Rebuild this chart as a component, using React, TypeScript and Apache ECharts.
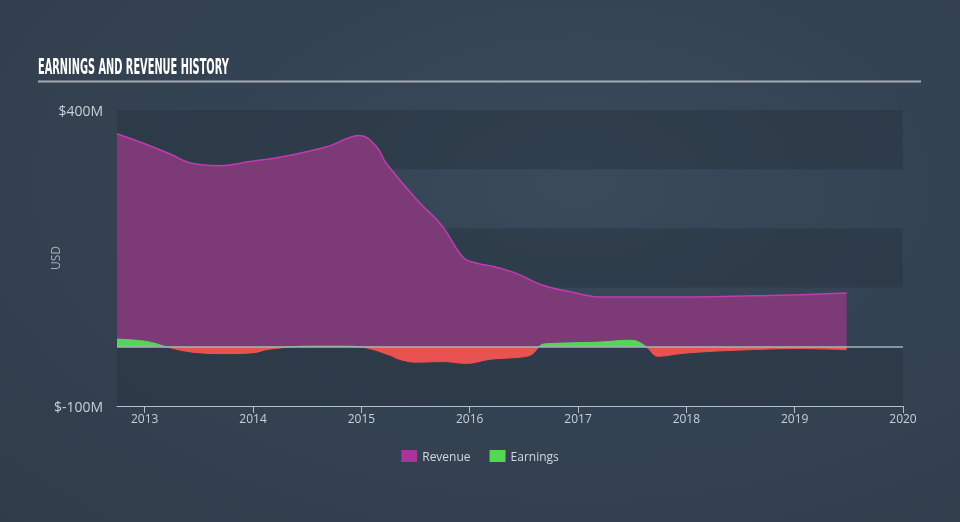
import React, { useEffect, useRef } from "react";
import * as echarts from "echarts";

const yearTicks = [2013, 2014, 2015, 2016, 2017, 2018, 2019, 2020];
const yLabelValues = [-100, 400];

const revenueX = [2012.744, 2013.0, 2013.23, 2013.415, 2013.69, 2013.97, 2014.27, 2014.68, 2014.985, 2015.14, 2015.23, 2015.51, 2015.75, 2015.94, 2016.07, 2016.21, 2016.43, 2016.675, 2016.95, 2017.23, 2017.91, 2018.84, 2019.48];
const revenueY = [360, 343, 326, 311, 306, 313, 321, 338, 357, 338, 310, 249, 203, 151, 141, 136, 124, 104, 92, 84, 84, 87, 91];

const earningsX = [2012.744, 2012.98, 2013.09, 2013.2, 2013.44, 2013.76, 2014.0, 2014.15, 2014.52, 2014.85, 2015.05, 2015.26, 2015.35, 2015.51, 2015.75, 2015.97, 2016.19, 2016.49, 2016.58, 2016.65, 2016.7, 2017.2, 2017.48, 2017.55, 2017.63, 2017.74, 2017.97, 2018.43, 2019.05, 2019.48];
const earningsY = [13, 10, 6, 0, -9, -11.5, -10, -4, 1, 1, -2, -14, -21, -26, -25, -28, -21, -17, -12, 2, 5, 8, 11, 9, 0, -16, -11, -6, -3, -5];

const Y_MIN = -100;
const Y_MAX = 400;
const GRID_TOP = 110;
const GRID_BOTTOM = 116;
const H = 522;

export default function App() {
  const ref = useRef<HTMLDivElement>(null);
  useEffect(() => {
    if (!ref.current) return;
    const chart = echarts.init(ref.current, null, { renderer: "svg" });
    const font = "Open Sans";
    const zeroFrac = (Y_MAX - 0) / (Y_MAX - Y_MIN);
    const posNeg = (pos: string, neg: string) =>
      new echarts.graphic.LinearGradient(
        0,
        GRID_TOP,
        0,
        H - GRID_BOTTOM,
        [
          { offset: 0, color: pos },
          { offset: zeroFrac, color: pos },
          { offset: zeroFrac, color: neg },
          { offset: 1, color: neg },
        ],
        true
      );
    chart.setOption({
      animation: false,
      backgroundColor: "transparent",
      textStyle: { fontFamily: font },
      graphic: [
        {
          type: "text",
          left: 38,
          top: 56,
          scaleX: 0.52,
          style: {
            text: "EARNINGS AND REVENUE HISTORY",
            fill: "#ffffff",
            font: "bold 21px 'Liberation Sans Narrow', 'DejaVu Sans Condensed', sans-serif",
          },
        },
        {
          type: "rect",
          shape: { x: 38, y: 80.5, width: 883, height: 2 },
          style: { fill: "#a3abb4" },
        },
      ],
      grid: { left: 117, right: 57, top: GRID_TOP, bottom: GRID_BOTTOM },
      legend: {
        bottom: 55,
        left: "center",
        icon: "rect",
        itemWidth: 16,
        itemHeight: 12,
        itemGap: 19,
        itemTextGap: 6,
        textStyle: { color: "#d3d8de", fontSize: 12, fontFamily: font },
        data: [
          { name: "Revenue", itemStyle: { color: "#a8359c" } },
          { name: "Earnings", itemStyle: { color: "#52d852" } },
        ],
      },
      xAxis: {
        type: "value",
        min: 2012.744,
        max: 2020,
        splitLine: { show: false },
        axisLine: { show: true, onZero: false, lineStyle: { color: "#b4bfca", width: 1 } },
        axisTick: { show: true, length: 7, customValues: yearTicks, lineStyle: { color: "#b4bfca" } },
        axisLabel: {
          customValues: yearTicks,
          color: "#c9d0d7",
          fontSize: 12,
          margin: 6,
          formatter: (v: number) => String(Math.round(v)),
        },
      },
      yAxis: {
        type: "value",
        min: Y_MIN,
        max: Y_MAX,
        interval: 100,
        name: "USD",
        nameLocation: "middle",
        nameRotate: 90,
        nameGap: 56,
        nameMoveOverlap: false,
        nameTextStyle: { color: "#a7b0ba", fontSize: 12, fontFamily: font },
        axisLine: { show: false },
        axisTick: { show: false },
        splitLine: { show: false },
        splitArea: {
          show: true,
          areaStyle: { color: ["rgba(40,52,66,0.55)", "rgba(0,0,0,0)"] },
        },
        axisLabel: {
          color: "#c9d0d7",
          fontSize: 14,
          margin: 14,
          formatter: (v: number) => (yLabelValues.indexOf(v) >= 0 ? "$" + v + "M" : ""),
        },
      },
      series: [
        {
          name: "Revenue",
          type: "line",
          smooth: 0.4,
          symbol: "none",
          data: revenueX.map((x, i) => [x, revenueY[i]]),
          lineStyle: { color: "#c23bb0", width: 1.5 },
          itemStyle: { color: "#a8359c" },
          areaStyle: { color: "#7c3a77", opacity: 1 },
          markLine: {
            silent: true,
            symbol: "none",
            label: { show: false },
            lineStyle: { color: "#a9b1ba", width: 1.5, type: "solid" },
            data: [{ yAxis: 0 }],
          },
          z: 2,
        },
        {
          name: "Earnings",
          type: "line",
          smooth: 0.4,
          symbol: "none",
          data: earningsX.map((x, i) => [x, earningsY[i]]),
          lineStyle: { width: 1, color: posNeg("#52d852", "#ea5252") },
          itemStyle: { color: "#52d852" },
          areaStyle: { opacity: 1, color: posNeg("#52d852", "#ea5252") },
          z: 3,
        },
      ],
    });
    return () => chart.dispose();
  }, []);
  return (
    <div
      style={{
        position: "fixed",
        left: 0,
        top: 0,
        width: 960,
        height: 522,
        background: "radial-gradient(ellipse at 60% 35%, #3a4a5b 0%, #344353 45%, #303c4a 100%)",
      }}
    >
      <div ref={ref} style={{ width: 960, height: 522 }} />
    </div>
  );
}
